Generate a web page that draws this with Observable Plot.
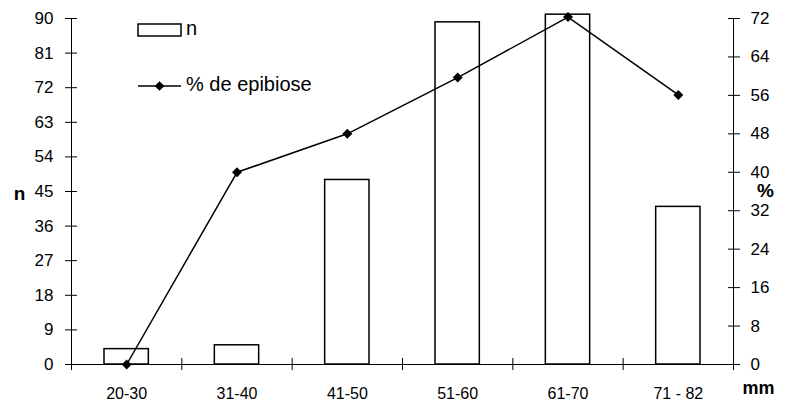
<!DOCTYPE html>
<html>
<head>
<meta charset="utf-8">
<script src="https://cdn.jsdelivr.net/npm/d3@7"></script>
<script src="https://cdn.jsdelivr.net/npm/@observablehq/plot@0.6"></script>
<style>
  html, body { margin: 0; padding: 0; background: #fff; }
  #wrap { position: relative; width: 800px; height: 404px; }
  #wrap svg { display: block; }
  #legend { position: absolute; left: 0; top: 0; pointer-events: none; }
</style>
</head>
<body>
<div id="wrap"></div>
<script>
const categories = ["20-30", "31-40", "41-50", "51-60", "61-70", "71 - 82"];
const nValues = [4, 5, 48, 89, 91, 41];
const pctValues = [0, 40, 48, 59.7, 72.3, 56.1];
const nTicks = [0, 9, 18, 27, 36, 45, 54, 63, 72, 81, 90];
const pctTicks = [0, 8, 16, 24, 32, 40, 48, 56, 64, 72];
const legendLabels = ["n", "% de epibiose"];
const axisLabels = {left: "n", right: "%", bottom: "mm"};

const ratio = 90 / 72; // maps the % axis onto the n axis
const data = categories.map((c, i) => ({c, i, n: nValues[i], p: pctValues[i]}));
const font = "'Liberation Sans', Arial, sans-serif";
const fs = 17;

const chart = Plot.plot({
  width: 800,
  height: 404,
  marginLeft: 71,
  marginRight: 67,
  marginTop: 18,
  marginBottom: 40,
  x: {type: "linear", domain: [0, categories.length]},
  y: {domain: [0, 90]},
  style: {fontFamily: font, fontSize: "14px", color: "#000", background: "#fff"},
  marks: [
    Plot.rectY(data, {x1: d => d.i, x2: d => d.i + 1, y: "n", insetLeft: 33, insetRight: 33,
      fill: "white", stroke: "black", strokeWidth: 1.5}),
    Plot.ruleX([0, categories.length], {stroke: "black", strokeWidth: 1}),
    Plot.ruleY([0], {stroke: "black", strokeWidth: 1}),
    Plot.axisY(nTicks, {anchor: "left", tickSize: 12, dx: 6, tickFormat: () => "", label: null}),
    Plot.axisY(nTicks, {anchor: "left", tickSize: 0, tickPadding: 18, label: null, fontSize: fs}),
    Plot.axisY(pctTicks.map(p => p * ratio), {anchor: "right", tickSize: 12, dx: -6, tickFormat: () => "", label: null}),
    Plot.axisY(pctTicks.map(p => p * ratio), {anchor: "right", tickSize: 0, tickPadding: 17,
      tickFormat: d => String(Math.round(d / ratio)), label: null, fontSize: fs}),
    Plot.axisX(d3.range(categories.length + 1), {anchor: "bottom", tickSize: 12, dy: -6, tickFormat: () => "", label: null}),
    Plot.text(data, {x: d => d.i + 0.5, y: () => 0, text: "c", dy: 29, fontSize: 16}),
    Plot.line(data, {x: d => d.i + 0.5, y: d => d.p * ratio, stroke: "black", strokeWidth: 1.5}),
    Plot.dot(data, {x: d => d.i + 0.5, y: d => d.p * ratio, symbol: "diamond2", r: 4.5, fill: "black", stroke: "none"}),
    Plot.text([axisLabels.left], {frameAnchor: "left", textAnchor: "middle", dx: -52, dy: 2, fontWeight: "bold", fontSize: 19}),
    Plot.text([axisLabels.right], {frameAnchor: "right", textAnchor: "middle", dx: 32, dy: -1, fontWeight: "bold", fontSize: 19}),
    Plot.text([axisLabels.bottom], {frameAnchor: "bottom-right", textAnchor: "middle", dx: 25, dy: 29, fontWeight: "bold", fontSize: 18})
  ]
});
document.getElementById("wrap").appendChild(chart);

// Legend overlay
const lg = d3.select("#wrap").append("svg")
  .attr("id", "legend").attr("width", 800).attr("height", 404)
  .style("font-family", font).style("font-size", "20px");
lg.append("rect").attr("x", 138).attr("y", 24).attr("width", 43).attr("height", 12)
  .attr("fill", "white").attr("stroke", "black").attr("stroke-width", 1.5);
lg.append("text").attr("x", 186).attr("y", 28).attr("dy", "0.35em").text(legendLabels[0]);
lg.append("line").attr("x1", 138).attr("x2", 181).attr("y1", 86).attr("y2", 86)
  .attr("stroke", "black").attr("stroke-width", 1.5);
lg.append("path").attr("d", d3.symbol(d3.symbolDiamond2, 60)())
  .attr("transform", "translate(159.5,86)").attr("fill", "black");
lg.append("text").attr("x", 186).attr("y", 84).attr("dy", "0.35em").text(legendLabels[1]);
</script>
</body>
</html>
